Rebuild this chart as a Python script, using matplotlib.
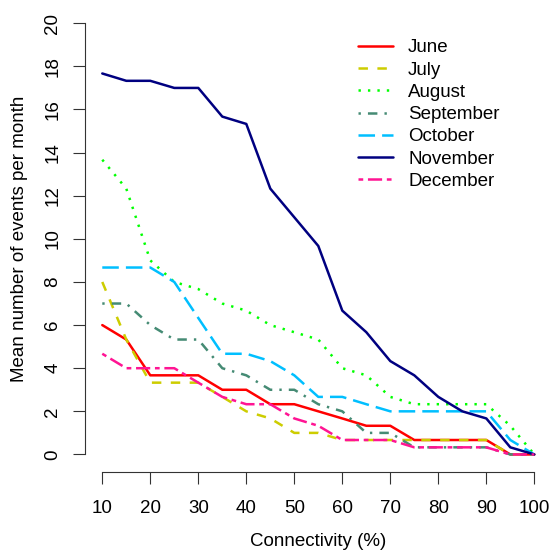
import numpy as np
import matplotlib.pyplot as plt

plt.rcParams['font.family'] = ['Liberation Sans', 'DejaVu Sans']
plt.rcParams['lines.scale_dashes'] = False

# connectivity levels (%)
connectivity = [10, 15, 20, 25, 30, 35, 40, 45, 50, 55, 60, 65, 70, 75, 80, 85, 90, 95, 100]

june = [6.0, 5.33, 3.67, 3.67, 3.67, 3.0, 3.0, 2.33, 2.33, 2.0, 1.67, 1.33, 1.33,
        0.67, 0.67, 0.67, 0.67, 0.0, 0.0]
july = [8.0, 5.33, 3.33, 3.33, 3.33, 2.67, 2.0, 1.67, 1.0, 1.0, 0.67, 0.67, 0.67,
        0.67, 0.67, 0.67, 0.67, 0.0, 0.0]
august = [13.67, 12.33, 9.0, 8.0, 7.67, 7.0, 6.67, 6.0, 5.67, 5.33, 4.0, 3.67, 2.67,
          2.33, 2.33, 2.33, 2.33, 1.33, 0.0]
september = [7.0, 7.0, 6.0, 5.33, 5.33, 4.0, 3.67, 3.0, 3.0, 2.33, 2.0, 1.0, 1.0,
             0.33, 0.33, 0.33, 0.33, 0.0, 0.0]
october = [8.67, 8.67, 8.67, 8.0, 6.33, 4.67, 4.67, 4.33, 3.67, 2.67, 2.67, 2.33, 2.0,
           2.0, 2.0, 2.0, 2.0, 0.67, 0.0]
november = [17.67, 17.33, 17.33, 17.0, 17.0, 15.67, 15.33, 12.33, 11.0, 9.67, 6.67, 5.67,
            4.33, 3.67, 2.67, 2.0, 1.67, 0.33, 0.0]
december = [4.67, 4.0, 4.0, 4.0, 3.33, 2.67, 2.33, 2.33, 1.67, 1.33, 0.67, 0.67, 0.67,
             0.33, 0.33, 0.33, 0.33, 0.0, 0.0]

months = ['June', 'July', 'August', 'September', 'October', 'November', 'December']
series = [june, july, august, september, october, november, december]
colors = ['#FF0000', '#CDCD00', '#00FF00', '#458B74', '#00BFFF', '#000080', '#FF1493']
# R line types: solid, dashed, dotted, dotdash, longdash, solid, twodash
dashes = [None, (4, 4), (1, 3), (1, 3, 4, 3), (7, 3), None, (2, 2, 6, 2)]
unit = 1.7  # points per R dash unit

fig = plt.figure(figsize=(5.5, 5.5), dpi=100)
ax = fig.add_axes([85 / 550, 78.3 / 550, 466.6 / 550, 465.7 / 550])

for vals, name, c, d in zip(series, months, colors, dashes):
    line, = ax.plot(connectivity, vals, color=c, lw=1.8, label=name,
                    solid_capstyle='round', solid_joinstyle='round')
    if d is not None:
        line.set_dashes([u * unit for u in d])

ax.set_xlim(6.4, 103.6)
ax.set_ylim(-0.8, 20.8)
for s in ['top', 'right']:
    ax.spines[s].set_visible(False)
ax.spines['left'].set_bounds(0, 20)
ax.spines['bottom'].set_bounds(10, 100)
for s in ['left', 'bottom']:
    ax.spines[s].set_linewidth(0.8)
    ax.spines[s].set_color('#333333')

ax.set_xticks(np.arange(10, 101, 10))
ax.set_yticks(np.arange(0, 21, 2))
ax.tick_params(length=8.5, width=0.8, color='#333333', labelsize=13.5)
ax.tick_params(axis='x', pad=12)
ax.tick_params(axis='y', pad=8.5)
for lab in ax.get_yticklabels():
    lab.set_rotation(90)
    lab.set_va('center')

fig.text(318 / 550, 1 - 541 / 550, 'Connectivity (%)', ha='center', va='center', fontsize=13.5)
fig.text(20 / 550, 1 - 239 / 550, 'Mean number of events per month', ha='center', va='center',
         rotation=90, fontsize=13.5)

ax.legend(loc='upper left', bbox_to_anchor=(358 / 550, 1 - 39.2 / 550),
          bbox_transform=fig.transFigure, frameon=False, fontsize=13.5,
          handlelength=1.87, handletextpad=0.8, borderpad=0, borderaxespad=0,
          labelspacing=0.275)

fig.savefig('out.png', dpi=100)
